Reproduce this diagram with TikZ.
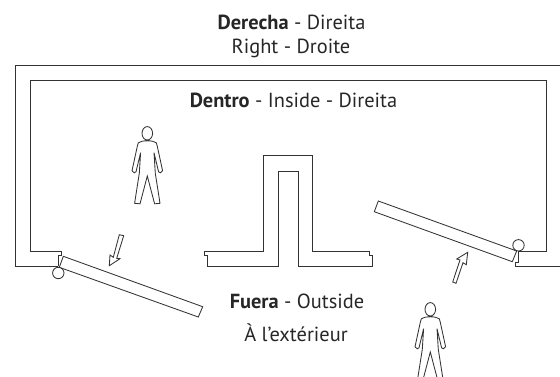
\documentclass[tikz,border=0pt]{standalone}
\usepackage{fontspec}
\setmainfont{PT Sans}
\definecolor{wallink}{gray}{.2}
\tikzset{
  wallline/.style={draw=wallink,line width=.85pt,line join=miter},
  label/.style={text=black!85,font=\fontsize{20.4}{24}\selectfont,inner sep=0pt,anchor=center},
}
\begin{document}
\begin{tikzpicture}[x=1pt,y=-1pt]
\def\person{(0,0) ellipse [x radius=5.3pt,y radius=6.7pt]
	 (0,7.5) .. controls (4,7.5) and (7,8) .. (9,9.5)
	 -- (10,13) -- (15.3,37.5) -- (13,39.5) -- (11.3,38.5) -- (6.7,19.4)
	 -- (8,40) -- (12.7,70) -- (7.3,70.5) -- (0,42.7)
	 -- (-7.3,70.5) -- (-12.7,70) -- (-8,40) -- (-6.7,19.4)
	 -- (-11.3,38.5) -- (-13,39.5) -- (-15.3,37.5) -- (-10,13) -- (-9,9.5)
	 .. controls (-7,8) and (-4,7.5) .. (0,7.5)}
\useasboundingbox (0,0) rectangle (560,376);
\clip (0,0) rectangle (560,376);

\node[label] (right1) at (291.5,22.5) {\textbf{Derecha} - Direita};
\node[label] (right2) at (291,48) {Right - Droite};
\node[label] (inside) at (293.5,100.5) {\textbf{Dentro} - Inside - Direita};
\node[label] (outside1) at (297,301.5) {\textbf{Fuera} - Outside};
\node[label] (outside2) at (296,332.5) {À l’extérieur};

% walls
\draw[wallline] (58.3,266.3) -- (15,266.3) -- (15,65.5) -- (560,65.5);
\draw[wallline] (58.3,266.3) -- (58.3,255.3) -- (61.7,255.3) -- (61.7,251.3)
	-- (30,251.3) -- (30,80.5) -- (546.7,80.5) -- (546.7,251.3) -- (518.3,251.3)
	-- (518.3,262.7) -- (515.7,262.7) -- (515.7,266.3) -- (560,266.3);
\draw[wallline] (204.7,251.3) -- (263.3,251.3) -- (263.3,155.7) -- (312.7,155.7)
	-- (312.7,251.3) -- (369,251.3) -- (369,255) -- (372.3,255) -- (372.3,266.3)
	-- (298,266.3) -- (298,171) -- (278.7,171) -- (278.7,266.3) -- (207.3,266.3)
	-- (207.3,255) -- (204.7,255) -- cycle;

% doors
\draw[wallline] (63.3,256.3) -- (202.7,306.7) -- (198.3,317) -- (59.3,267.3) -- cycle;
\draw[wallline,fill=white] (58.3,273) circle [radius=5.7pt];
\draw[wallline] (378.3,201) -- (516.7,251) -- (512.3,261.7) -- (374.3,211.7) -- cycle;
\draw[wallline,fill=white] (518.5,245.3) circle [radius=5.7pt];

% arrows
\draw[wallline] (119.3,234.7) -- (123.7,235.7) -- (116.7,258.3) -- (120,258.7)
	-- (109.3,265.7) -- (110,255) -- (113.3,257.3) -- cycle;
\draw[wallline] (452.7,282) -- (456,283.3) -- (463,262.7) -- (466.3,264.7)
	-- (467.7,252.3) -- (456.7,259) -- (460,260) -- cycle;

% people
\draw[wallline,shift={(147.3,133.3)}] \person;
\draw[wallline,shift={(430.3,309.3)}] \person;
\end{tikzpicture}
\end{document}
